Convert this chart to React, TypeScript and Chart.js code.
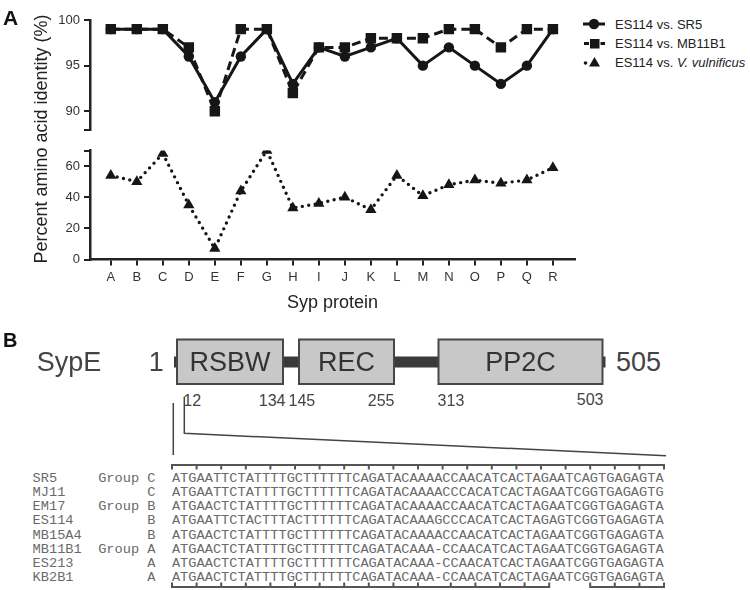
import React, { useEffect, useRef } from 'react';
import { Chart, registerables } from 'chart.js';
Chart.register(...registerables);

// ---------- Panel A data ----------
const proteins = ['A', 'B', 'C', 'D', 'E', 'F', 'G', 'H', 'I', 'J', 'K', 'L', 'M', 'N', 'O', 'P', 'Q', 'R'];
const vsSR5 = [99, 99, 99, 96, 91, 96, 99, 93, 97, 96, 97, 98, 95, 97, 95, 93, 95, 99];
const vsMB11B1 = [99, 99, 99, 97, 90, 99, 99, 92, 97, 97, 98, 98, 98, 99, 99, 97, 99, 99];
const vsVulnificus = [54, 50, 68, 35, 7, 44, 70, 33, 36, 40, 32, 54, 41, 48, 51, 49, 51, 59];
const upperTickValues = [88, 90, 95, 100];
const upperTickLabels = ['', '90', '95', '100'];
const lowerTickValues = [0, 20, 40, 60, 70];
const lowerTickLabels = ['0', '20', '40', '60', ''];

// ---------- Panel B data ----------
const domainNames = ['RSBW', 'REC', 'PP2C'];
const domainStarts = [12, 145, 313];
const domainEnds = [134, 255, 503];
const strains = ['SR5', 'MJ11', 'EM17', 'ES114', 'MB15A4', 'MB11B1', 'ES213', 'KB2B1'];
const groups = ['Group C', 'C', 'Group B', 'B', 'B', 'Group A', 'A', 'A'];
const sequences = [
  'ATGAATTCTATTTTGCTTTTTTCAGATACAAAACCAACATCACTAGAATCAGTGAGAGTA',
  'ATGAATTCTATTTTGCTTTTTTCAGATACAAAACCCACATCACTAGAATCGGTGAGAGTG',
  'ATGAACTCTATTTTGCTTTTTTCAGATACAAAACCAACATCACTAGAATCGGTGAGAGTA',
  'ATGAATTCTACTTTACTTTTTTCAGATACAAAGCCCACATCACTAGAGTCGGTGAGAGTA',
  'ATGAACTCTATTTTGCTTTTTTCAGATACAAAACCAACATCACTAGAATCGGTGAGAGTA',
  'ATGAACTCTATTTTGCTTTTTTCAGATACAAA-CCAACATCACTAGAATCGGTGAGAGTA',
  'ATGAACTCTATTTTGCTTTTTTCAGATACAAA-CCAACATCACTAGAATCGGTGAGAGTA',
  'ATGAACTCTATTTTGCTTTTTTCAGATACAAA-CCAACATCACTAGAATCGGTGAGAGTA',
];
const bottomTickCols = [0, 3, 6, 9, 12, 15, 18, 21, 24, 27, 30, 34, 37, 40, 43, 46, 51, 54, 57, 60];

const SANS = "'Liberation Sans', Arial, sans-serif";
const MONO = "'Liberation Mono', 'Courier New', monospace";
const INK = '#161616';

function yScale(min: number, max: number, values: number[], labels: string[]) {
  return {
    type: 'linear' as const,
    min,
    max,
    afterBuildTicks: (s: any) => {
      s.ticks = values.map((v) => ({ value: v }));
    },
    afterFit: (s: any) => {
      s.width = 90;
    },
    ticks: {
      callback: (v: any) => labels[values.indexOf(Number(v))] ?? '',
      font: { family: SANS, size: 13, lineHeight: 1 },
      color: '#333',
      padding: 4,
      autoSkip: false,
    },
    grid: { display: true, drawOnChartArea: false, drawTicks: true, tickLength: 6, color: '#222', lineWidth: 2 },
    border: { display: true, color: '#222', width: 2.5 },
  };
}

function xScale(display: boolean) {
  const s: any = {
    type: 'linear' as const,
    min: -0.8,
    max: 17.85,
    display,
    afterBuildTicks: (sc: any) => {
      sc.ticks = proteins.map((_, i) => ({ value: i }));
    },
    ticks: {
      callback: (v: any) => proteins[Number(v)] ?? '',
      font: { family: SANS, size: 13, lineHeight: 1 },
      color: '#333',
      padding: 5,
      autoSkip: false,
      maxRotation: 0,
    },
    grid: { display: true, drawOnChartArea: false, drawTicks: true, tickLength: 6, color: '#222', lineWidth: 2 },
    border: { display: true, color: '#222', width: 2.5 },
  };
  if (display) {
    s.afterFit = (sc: any) => {
      sc.height = 60.5;
    };
  }
  return s;
}

const pts = (arr: number[]) => arr.map((y, i) => ({ x: i, y }));

function Txt(props: { x: number; y: number; size: number; text: React.ReactNode; bold?: boolean; color?: string; align?: 'left' | 'right' | 'center' }) {
  const { x, y, size, text, bold, color, align = 'left' } = props;
  const top = y - 0.4885 * size;
  const style: React.CSSProperties = {
    position: 'absolute',
    top,
    fontFamily: SANS,
    fontSize: size,
    lineHeight: `${size}px`,
    fontWeight: bold ? 'bold' : 'normal',
    color: color || '#222',
    whiteSpace: 'nowrap',
  };
  if (align === 'left') style.left = x;
  else if (align === 'right') { style.left = x; style.transform = 'translateX(-100%)'; }
  else { style.left = x; style.transform = 'translateX(-50%)'; }
  return <div style={style}>{text}</div>;
}

export default function App() {
  const upperRef = useRef<HTMLCanvasElement>(null);
  const lowerRef = useRef<HTMLCanvasElement>(null);

  useEffect(() => {
    const upper = new Chart(upperRef.current!, {
      type: 'line',
      data: {
        datasets: [
          {
            label: 'ES114 vs. SR5',
            data: pts(vsSR5),
            borderColor: INK,
            backgroundColor: INK,
            borderWidth: 3,
            pointStyle: 'circle',
            pointRadius: 5.2,
            pointBorderWidth: 0,
            tension: 0,
            order: 1,
          },
          {
            label: 'ES114 vs. MB11B1',
            data: pts(vsMB11B1),
            borderColor: INK,
            backgroundColor: INK,
            borderWidth: 3,
            borderDash: [9, 5],
            pointStyle: 'rect',
            pointRadius: 7.4,
            pointBorderWidth: 0,
            tension: 0,
            order: 0,
          },
        ],
      },
      options: {
        responsive: false,
        animation: false,
        events: [],
        layout: { padding: { top: 20, right: 25, bottom: 8, left: 0 } },
        plugins: { legend: { display: false }, tooltip: { enabled: false } },
        scales: { x: xScale(false), y: yScale(88, 100, upperTickValues, upperTickLabels) as any },
      },
    });
    const lower = new Chart(lowerRef.current!, {
      type: 'line',
      data: {
        datasets: [
          {
            label: 'ES114 vs. V. vulnificus',
            data: pts(vsVulnificus),
            borderColor: INK,
            backgroundColor: INK,
            borderWidth: 3.4,
            borderDash: [0, 6.5],
            borderCapStyle: 'round',
            pointStyle: 'triangle',
            pointRadius: 6.5,
            pointBorderWidth: 0,
            tension: 0,
          },
        ],
      },
      options: {
        responsive: false,
        animation: false,
        events: [],
        layout: { padding: { top: 7, right: 25, bottom: 0, left: 0 } },
        plugins: { legend: { display: false }, tooltip: { enabled: false } },
        scales: { x: xScale(true), y: yScale(0, 70, lowerTickValues, lowerTickLabels) as any },
      },
    });
    return () => {
      upper.destroy();
      lower.destroy();
    };
  }, []);

  // Panel B geometry
  const cw = 8.2;
  const seqFont = 13.67;
  const rowLeft = 32.6;
  const seqX0 = rowLeft + 17 * cw;
  const rowY0 = 478.3;
  const rowStep = 14.05;
  const boxX = [[177, 283], [299, 394], [438.5, 602.5]];
  const boxTop = 339.5;
  const boxBot = 384;
  const colX = (n: number) => seqX0 + n * cw;

  const topTicks: number[] = [];
  for (let n = 0; n <= 60; n += 3) topTicks.push(n);

  return (
    <div style={{ position: 'absolute', left: 0, top: 0, width: 750, height: 590, background: '#fff', overflow: 'hidden' }}>
      <svg width={750} height={590} style={{ position: 'absolute', left: 0, top: 0, pointerEvents: 'none' }}>
        {/* legend symbols */}
        <line x1={583} y1={24} x2={605} y2={24} stroke={INK} strokeWidth={3} />
        <circle cx={594} cy={24} r={5.2} fill={INK} />
        <line x1={584} y1={43.5} x2={589} y2={43.5} stroke={INK} strokeWidth={3} />
        <rect x={590} y={39} width={9.5} height={9.5} fill={INK} />
        <line x1={600.5} y1={43.5} x2={605} y2={43.5} stroke={INK} strokeWidth={3} />
        <circle cx={585.5} cy={63} r={1.8} fill={INK} />
        <polygon points="594.5,57 600,66.5 589,66.5" fill={INK} />

        {/* domain diagram */}
        <rect x={174} y={356.5} width={4} height={11} fill="#3a3a3a" />
        <rect x={282} y={356.5} width={18} height={11} fill="#3a3a3a" />
        <rect x={393} y={356.5} width={46} height={11} fill="#3a3a3a" />
        <rect x={601.5} y={356.5} width={4} height={11} fill="#3a3a3a" />
        {boxX.map(([a, b], i) => (
          <rect key={i} x={a} y={boxTop} width={b - a} height={boxBot - boxTop} fill="#c8c8c8" stroke="#474747" strokeWidth={2} />
        ))}

        {/* zoom lines */}
        <line x1={173.3} y1={403} x2={173.3} y2={455} stroke="#444" strokeWidth={1.5} />
        <polyline points={`184.3,396.7 184.3,433.3 666,455.7`} fill="none" stroke="#444" strokeWidth={1.5} />

        {/* alignment brackets */}
        <line x1={colX(0)} y1={465} x2={colX(60)} y2={465} stroke="#555" strokeWidth={2} />
        {topTicks.map((n) => (
          <line key={'t' + n} x1={colX(n)} y1={464} x2={colX(n)} y2={469.5} stroke="#555" strokeWidth={2} />
        ))}
        <line x1={colX(0)} y1={587} x2={colX(46)} y2={587} stroke="#555" strokeWidth={2} />
        <line x1={colX(51)} y1={587} x2={colX(60)} y2={587} stroke="#555" strokeWidth={2} />
        {bottomTickCols.map((n) => (
          <line key={'b' + n} x1={colX(n)} y1={582.5} x2={colX(n)} y2={588} stroke="#555" strokeWidth={2} />
        ))}
      </svg>

      <canvas ref={upperRef} width={600} height={140} style={{ position: 'absolute', left: 0, top: 0 }} />
      <canvas ref={lowerRef} width={600} height={180} style={{ position: 'absolute', left: 0, top: 140 }} />

      <Txt x={3} y={17.5} size={21} bold text="A" color="#111" />
      <div
        style={{
          position: 'absolute',
          left: 41,
          top: 139,
          transform: 'translate(-50%, -50%) rotate(-90deg)',
          fontFamily: SANS,
          fontSize: 18,
          lineHeight: '18px',
          color: '#222',
          whiteSpace: 'nowrap',
        }}
      >
        Percent amino acid identity (%)
      </div>
      <Txt x={332.5} y={301.5} size={18} text="Syp protein" align="center" />

      {/* Legend */}
      <Txt x={615} y={24} size={13} text="ES114 vs. SR5" />
      <Txt x={615} y={43.5} size={13} text="ES114 vs. MB11B1" />
      <Txt x={615} y={62.5} size={13} text={<span>ES114 vs. <i>V. vulnificus</i></span>} />

      {/* Panel B text */}
      <Txt x={3} y={340} size={20} bold text="B" color="#111" />
      <Txt x={36.7} y={362} size={27} text="SypE" color="#444" />
      <Txt x={148.8} y={362} size={27} text="1" color="#444" />
      <Txt x={616} y={362} size={27} text="505" color="#444" />
      {domainNames.map((d, i) => (
        <Txt key={d} x={(boxX[i][0] + boxX[i][1]) / 2} y={361.7} size={27} text={d} color="#333" align="center" />
      ))}
      <Txt x={183.3} y={401} size={16} text={String(domainStarts[0])} color="#444" />
      <Txt x={285.5} y={401} size={16} text={String(domainEnds[0])} color="#444" align="right" />
      <Txt x={288.5} y={401} size={16} text={String(domainStarts[1])} color="#444" />
      <Txt x={394.5} y={401} size={16} text={String(domainEnds[1])} color="#444" align="right" />
      <Txt x={437.6} y={401} size={16} text={String(domainStarts[2])} color="#444" />
      <Txt x={603.5} y={399.5} size={16} text={String(domainEnds[2])} color="#444" align="right" />

      {strains.map((s, i) => (
        <div
          key={s}
          style={{
            position: 'absolute',
            left: rowLeft,
            top: rowY0 + i * rowStep - 0.437 * seqFont,
            fontFamily: MONO,
            fontSize: seqFont,
            lineHeight: `${seqFont}px`,
            color: '#6a6a6a',
            whiteSpace: 'pre',
          }}
        >
          {s.padEnd(8, ' ') + groups[i].padStart(7, ' ') + '  ' + sequences[i]}
        </div>
      ))}
    </div>
  );
}
